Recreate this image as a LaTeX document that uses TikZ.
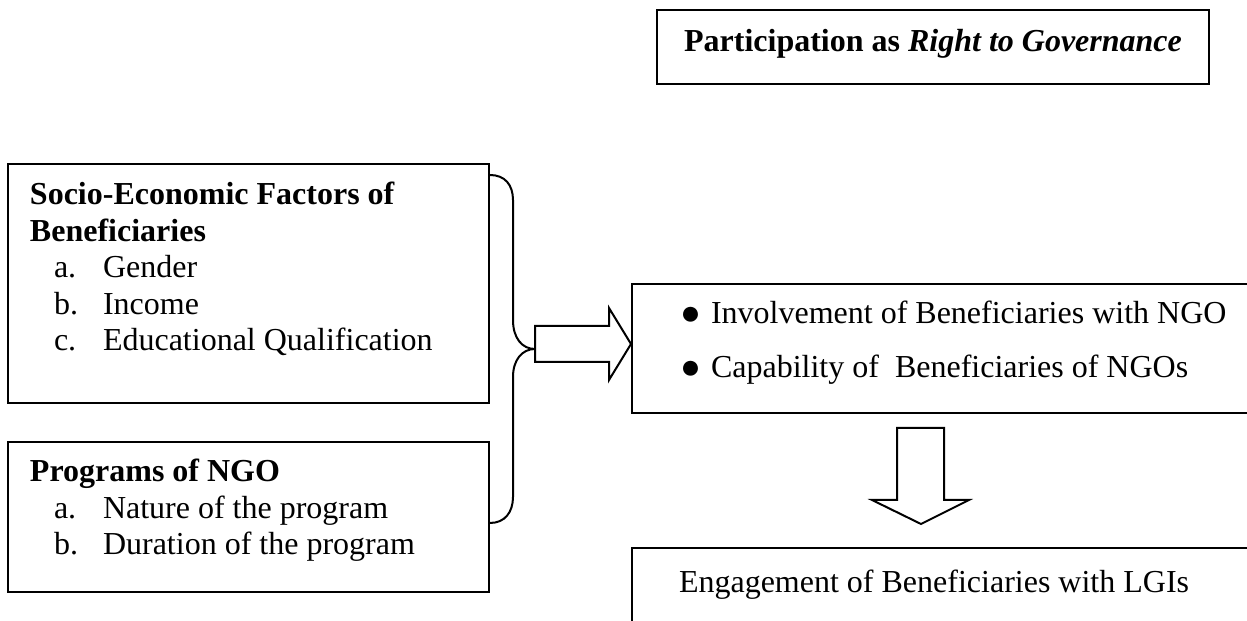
\documentclass[tikz,border=0pt]{standalone}
\usepackage{fontspec}
\setmainfont{Liberation Serif}
\usetikzlibrary{fit}
\begin{document}
\begin{tikzpicture}[x=0.375pt,y=-0.375pt,line width=0.75pt,
  box/.style={draw,line width=0.75pt,rectangle,inner sep=0pt},
  lbl/.style={anchor=base west,inner sep=0pt,font=\fontsize{12pt}{13.8pt}\selectfont},
  clbl/.style={anchor=base,inner sep=0pt,font=\fontsize{12pt}{13.8pt}\selectfont},
  bul/.style={anchor=base west,inner sep=0pt,font=\fontsize{13pt}{13pt}\selectfont},
  blockarrow/.style={draw,line width=0.75pt,fill=white,line join=miter},
  bracestyle/.style={draw,line width=0.75pt}]
\useasboundingbox (0,0) rectangle (1247,621);
\begin{scope}
\clip (0,0) rectangle (1247,621);
% boxes
\node[box,fit={(657,10) (1209,84)}] (gov) {};
\node[box,fit={(8,164) (489,403)}] (se) {};
\node[box,fit={(8,442) (489,592)}] (prog) {};
\node[box,fit={(632,284) (1262,413)}] (inv) {};
\node[box,fit={(632,548) (1262,640)}] (eng) {};
\end{scope}
% texts
\node[clbl] (govt) at (933,52) {\textbf{Participation as \textit{Right to Governance}}};
\node[lbl] (se1) at (29,205) {\textbf{Socio-Economic Factors of}};
\node[lbl] (se2) at (29,241.7) {\textbf{Beneficiaries}};
\node[lbl] (sea) at (53,277.7) {a.};
\node[lbl] (seat) at (102,277.7) {Gender};
\node[lbl] (seb) at (53,314.3) {b.};
\node[lbl] (sebt) at (102,314.3) {Income};
\node[lbl] (sec) at (53,350.7) {c.};
\node[lbl] (sect) at (102,350.7) {Educational Qualification};
\node[lbl] (pr1) at (29,481.7) {\textbf{Programs of NGO}};
\node[lbl] (pra) at (53,518.3) {a.};
\node[lbl] (prat) at (102,518.3) {Nature of the program};
\node[lbl] (prb) at (53,555) {b.};
\node[lbl] (prbt) at (102,555) {Duration of the program};
\node[bul] (b1) at (679,324.3) {●};
\node[lbl] (inv1) at (710,323.3) {Involvement of Beneficiaries with NGO};
\node[bul] (b2) at (679,378.7) {●};
\node[lbl] (inv2) at (710,377.7) {Capability of~~Beneficiaries of NGOs};
\node[lbl] (engt) at (678,593) {Engagement of Beneficiaries with LGIs};
% brace
\coordinate (bt) at (se.east |- 0,175);
\coordinate (bb) at (prog.east |- 0,523);
\coordinate (tip) at (535,349);
\draw[bracestyle] (bt) .. controls (505,175) and (513,185) .. (513,200)
  -- (513,320) .. controls (513,338) and (522,349) .. (tip)
  .. controls (522,349) and (513,360) .. (513,377)
  -- (513,497) .. controls (513,512) and (505,523) .. (bb);
% right block arrow
\coordinate (ra) at (535,344);
\draw[blockarrow] (ra |- 0,326) -- (609,326) -- (609,308) -- (inv.west |- 0,344)
  -- (609,380) -- (609,362) -- (ra |- 0,362) -- cycle;
% down block arrow
\coordinate (da) at (921,428);
\draw[blockarrow] (da -| 897,0) -- (944,428) -- (944,500) -- (969,500) -- (921,524)
  -- (872,500) -- (897,500) -- cycle;
\end{tikzpicture}
\end{document}
